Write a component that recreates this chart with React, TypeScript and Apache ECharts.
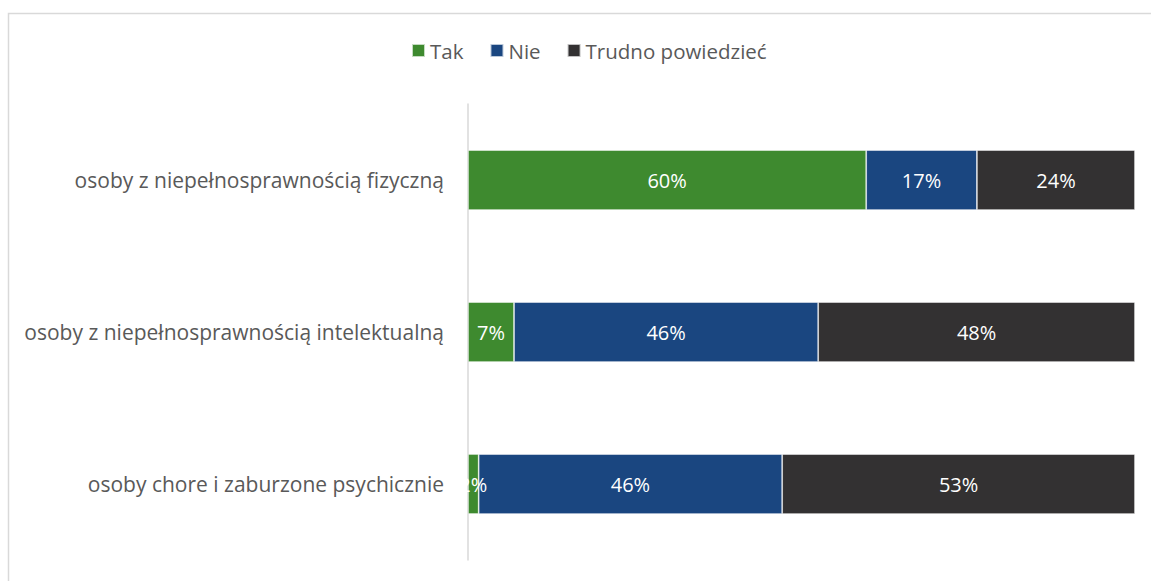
import React, { useEffect, useRef } from "react";
import * as echarts from "echarts";

const categories = [
  "osoby z niepełnosprawnością fizyczną",
  "osoby z niepełnosprawnością intelektualną",
  "osoby chore i zaburzone psychicznie",
];
const seriesNames = ["Tak", "Nie", "Trudno powiedzieć"];
const takValues = [59.7, 6.9, 1.6];
const nieValues = [16.6, 45.6, 45.5];
const trudnoValues = [23.7, 47.5, 52.9];
const colors = ["#3e8a2f", "#1a4680", "#333132"];

export default function App() {
  const ref = useRef<HTMLDivElement>(null);
  useEffect(() => {
    if (!ref.current) return;
    const chart = echarts.init(ref.current, null, { renderer: "svg" });
    const data = [takValues, nieValues, trudnoValues];
    chart.setOption({
      animation: false,
      textStyle: { fontFamily: "Open Sans" },
      graphic: [
        {
          type: "rect",
          shape: { x: 8.5, y: 13.5, width: 1200, height: 700 },
          style: { fill: "none", stroke: "#d9d9d9", lineWidth: 1.5 },
          silent: true,
        },
      ],
      legend: {
        top: 35,
        left: 406,
        itemWidth: 13,
        itemHeight: 13,
        itemGap: 26,
        icon: "rect",
        textStyle: { color: "#595959", fontSize: 20.5, fontFamily: "Open Sans" },
        data: seriesNames,
      },
      grid: { left: 468, right: 16, top: 104, bottom: 21, containLabel: false },
      xAxis: {
        type: "value",
        min: 0,
        max: 100,
        show: false,
      },
      yAxis: {
        type: "category",
        data: categories,
        inverse: true,
        axisLine: { show: true, lineStyle: { color: "#d9d9d9", width: 1.5 } },
        axisTick: { show: false },
        axisLabel: { color: "#595959", fontSize: 21, margin: 24, fontFamily: "Open Sans" },
      },
      series: seriesNames.map((name, i) => ({
        name,
        type: "bar",
        stack: "total",
        barWidth: 60,
        data: data[i],
        itemStyle: { color: colors[i], borderColor: "rgba(255,255,255,0.7)", borderWidth: 0.75 },
        label: {
          show: true,
          position: "inside",
          color: "#ffffff",
          fontSize: 20,
          fontFamily: "Open Sans",
          formatter: (p: any) => Math.round(p.value) + "%",
        },
      })),
    });
    return () => chart.dispose();
  }, []);
  return (
    <div
      ref={ref}
      style={{ position: "fixed", left: 0, top: 0, width: 1151, height: 581, background: "#fff" }}
    />
  );
}
